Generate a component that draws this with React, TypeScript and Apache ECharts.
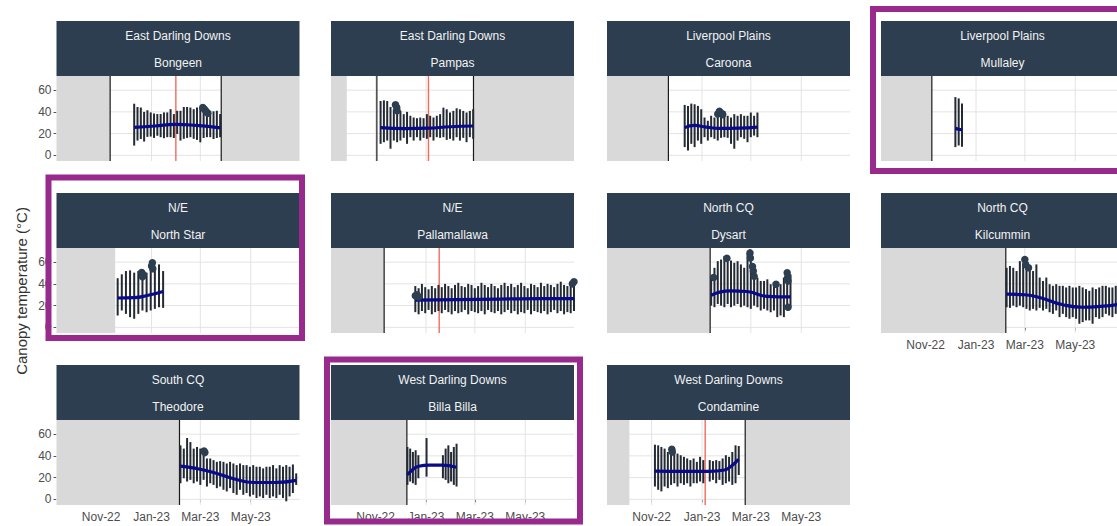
import React, { useEffect, useRef } from 'react';
import * as echarts from 'echarts';

// ---------- time helpers (x values are days from 1 Nov 2022) ----------
const DAY = 86400000;
const ORIGIN = Date.UTC(2022, 10, 1);
const ts = (d: number) => ORIGIN + d * DAY;

// ---------- axes ----------
const X_MIN_DAY = -54; // 8 Sep 2022
const X_MAX_DAY = 240; // 29 Jun 2023
const Y_MIN = -5.2;
const Y_MAX = 73;
const xTickDays = [0, 61, 120, 181];
const xTickLabels = ['Nov-22', 'Jan-23', 'Mar-23', 'May-23'];
const yTicks = [0, 20, 40, 60];

// ---------- facet labels ----------
const regionNames = ['East Darling Downs', 'East Darling Downs', 'Liverpool Plains', 'Liverpool Plains', 'N/E', 'N/E', 'North CQ', 'North CQ', 'South CQ', 'West Darling Downs', 'West Darling Downs'];
const siteNames = ['Bongeen', 'Pampas', 'Caroona', 'Mullaley', 'North Star', 'Pallamallawa', 'Dysart', 'Kilcummin', 'Theodore', 'Billa Billa', 'Condamine'];
const yTitle = 'Canopy temperature (°C)';

// ---------- Bongeen ----------
const bongeenBarStart = 40; const bongeenBarStep = 4;
const bongeenHi = [47.5, 44.5, 44, 40, 41.5, 39.5, 38.5, 38, 38, 39.5, 39.5, 42.5, 38, 41, 41, 44.5, 44.5, 44, 42.5, 44, 44, 41, 39.5, 41, 40.5, 41, 38];
const bongeenLo = [9, 13.6, 15, 12.7, 17, 17.3, 16, 18, 16.7, 15.8, 16.7, 16.7, 16, 19.7, 13.6, 15.2, 16, 16.7, 15.2, 14.2, 12, 16, 16.7, 16.7, 15, 16, 16.7];
const bongeenSmooth = [[40, 25.8], [65, 27], [90, 28.5], [115, 27.5], [144, 25.2]];
const bongeenDots = [[123, 44], [125, 42.5], [127, 40.5], [129, 38.8]];
const bongeenShade = [[X_MIN_DAY, 10.9], [145.3, X_MAX_DAY]];
const bongeenBlack = [10.9, 145.3];
const bongeenRed = [90.4];

// ---------- Pampas ----------
const pampasBarStart = 6; const pampasBarStep = 4;
const pampasHi = [50, 50.6, 50, 44.5, 42.4, 47, 40.9, 37.9, 40, 36.4, 34.8, 34.2, 34.8, 34.2, 37.9, 36.4, 34.8, 36.4, 37.9, 43.9, 42.4, 39.4, 40.9, 43.3, 42.4, 40.9, 39.4, 40.9, 42.4];
const pampasLo = [10.6, 12.1, 13.6, 6.1, 13.6, 12.1, 13.6, 16.1, 10.6, 16.7, 13.6, 16.7, 13.6, 16.1, 15.2, 16.7, 13.6, 16.7, 16.1, 16.7, 14.2, 15.2, 13.6, 16.7, 13.6, 16.1, 12.1, 16.7, 15.2];
const pampasSmooth = [[6, 25.5], [35, 24.6], [64, 25], [90, 26.3], [118, 27]];
const pampasDots = [[24, 46.5], [25.5, 44], [26, 41]];
const pampasShade = [[X_MIN_DAY, -34.9], [118.4, X_MAX_DAY]];
const pampasBlack = [1.5, 118.4];
const pampasRed = [63.9];

// ---------- Caroona ----------
const caroonaBarStart = 40; const caroonaBarStep = 4;
const caroonaHi = [46.4, 45.5, 47.6, 47.0, 45.5, 42.4, 34.8, 31.8, 36.4, 34.8, 37.9, 40.9, 40.9, 36.4, 34.8, 37.9, 36.4, 37.9, 36.4, 36.4, 39.4, 36.4, 39.4];
const caroonaLo = [7.6, 4.5, 10.6, 7.6, 13.6, 10.6, 16.7, 13.6, 16.7, 15.2, 13.6, 16.1, 16.7, 16.1, 10.6, 6.1, 13.6, 16.7, 15.2, 12.1, 16.7, 18.2, 16.7];
const caroonaSmooth = [[40, 25.5], [52, 27.5], [66, 26], [82, 24.8], [105, 25], [128, 26]];
const caroonaDots = [[80, 38], [82, 40.5], [84, 39], [86, 37.5]];
const caroonaShade = [[X_MIN_DAY, 20.3]];
const caroonaBlack = [20.3];
const caroonaRed: number[] = [];

// ---------- Mullaley ----------
const mullaleyBarStart = 36; const mullaleyBarStep = 4;
const mullaleyHi = [53.6, 52.4, 47.6];
const mullaleyLo = [7.6, 9.1, 8.0];
const mullaleySmooth = [[36, 25], [40, 24], [44, 23.5]];
const mullaleyDots: number[][] = [];
const mullaleyShade = [[X_MIN_DAY, 7.5]];
const mullaleyBlack = [7.5];
const mullaleyRed: number[] = [];

// ---------- North Star ----------
const northStarBarStart = 20; const northStarBarStep = 5;
const northStarHi = [45.2, 48.8, 51.8, 52.4, 50.3, 51.8, 53.3, 50.3, 57.9, 54.8, 57.9, 51.8];
const northStarLo = [10.9, 15.5, 12.4, 9.4, 7.9, 12.4, 15.5, 13.9, 15.5, 17, 18.5, 17.9];
const northStarSmooth = [[20, 27], [40, 27.3], [57, 29.5], [75, 33]];
const northStarDots = [[49, 50.5], [50, 46.5], [51, 48.5], [61, 56.5], [62, 59.4], [62.5, 54]];
const northStarShade = [[X_MIN_DAY, 17]];
const northStarBlack: number[] = [];
const northStarRed: number[] = [];

// ---------- Pallamallawa ----------
const pallaBarStart = 48; const pallaBarStep = 4;
const pallaHi = [38, 36, 40, 37, 35, 38, 36, 39, 37, 40, 38, 36, 39, 41, 38, 37, 40, 39, 36, 38, 41, 39, 37, 40, 38, 36, 39, 41, 38, 40, 37, 39, 41, 38, 36, 40, 39, 37, 41, 38, 40, 39, 37, 40, 42, 39, 38, 41, 44];
const pallaLo = [14, 12, 15, 13, 16, 12, 14, 15, 13, 16, 14, 12, 15, 13, 14, 16, 12, 15, 14, 13, 15, 12, 16, 14, 13, 15, 12, 14, 16, 13, 15, 12, 14, 13, 16, 12, 15, 14, 13, 15, 12, 14, 16, 13, 15, 12, 14, 13, 15];
const pallaSmooth = [[48, 25], [100, 25.5], [150, 26], [200, 26.5], [240, 26.5]];
const pallaDots = [[48, 29], [50, 30], [52, 28], [238, 40], [240, 42]];
const pallaShade = [[X_MIN_DAY, 10.3]];
const pallaBlack = [10.3];
const pallaRed = [76.9];

// ---------- Dysart ----------
const dysartBarStart = 72; const dysartBarStep = 4;
const dysartHi = [45.8, 54.8, 60.9, 62.4, 65.5, 60.9, 61.5, 59.4, 60.9, 57.9, 54.8, 68.5, 60.9, 54.8, 45.8, 42.7, 42.7, 44.2, 39.7, 39.7, 38.2, 39.7, 45.8, 51.8, 48.8];
const dysartLo = [20, 18.5, 21.5, 20, 18.5, 21.5, 18.5, 20, 21.5, 18.5, 20, 18.5, 17, 20, 18.5, 15.5, 17, 15.5, 13.9, 15.5, 9.4, 10.9, 9.4, 17, 18.5];
const dysartSmooth = [[72, 29.5], [95, 33.5], [115, 33], [140, 28.5], [168, 28]];
const dysartDots = [[75, 45.8], [91, 63.5], [119, 68.5], [119.5, 63.9], [122, 56], [123, 51.8], [124, 47], [150.5, 39.7], [164, 50.3], [164.5, 45.8], [165, 42.7], [165, 18.5]];
const dysartShade = [[X_MIN_DAY, 70.8]];
const dysartBlack = [70.8];
const dysartRed: number[] = [];

// ---------- Kilcummin ----------
const kilcumminBarStart = 98; const kilcumminBarStep = 4;
const kilcumminHi = [54.8, 56.4, 54.8, 51.8, 60.9, 57.9, 59.4, 54.8, 51.8, 57.9, 45.8, 42.7, 45.8, 39.7, 38.2, 39.7, 38.2, 38.2, 36.7, 38.2, 36.7, 36.7, 38.2, 36.7, 35.2, 33.6, 36.7, 35.2, 36.7, 38.2, 38.2, 36.7, 36.7, 38.2];
const kilcumminLo = [18.5, 17.9, 20, 18.5, 20, 18.5, 17, 15.5, 17, 15.5, 17.9, 15.5, 17, 13.9, 12.4, 15.5, 9.4, 12.4, 9.4, 7.9, 9.4, 7.9, 3.3, 4.8, 6.4, 6.4, 3.3, 9.4, 7.9, 9.4, 12.4, 10.9, 9.4, 12.4];
const kilcumminSmooth = [[98, 30.5], [120, 30], [140, 27], [165, 21], [190, 18.5], [215, 19.5], [232, 21]];
const kilcumminDots = [[120, 62.4], [121, 57.9], [124.5, 54.8]];
const kilcumminShade = [[X_MIN_DAY, 97]];
const kilcumminBlack = [97];
const kilcumminRed: number[] = [];

// ---------- Theodore ----------
const theodoreBarStart = 96; const theodoreBarStep = 4;
const theodoreHi = [49.7, 46.7, 56.4, 52.7, 46.7, 48.2, 46.7, 43.6, 37.6, 37.6, 36.1, 34.5, 35.2, 34.5, 33, 34.5, 33, 31.5, 33, 31.5, 31.5, 30, 31.5, 30, 30, 28.5, 30, 30, 31.5, 28.5, 31.5, 30, 31.5, 30, 32.1, 23.9];
const theodoreLo = [14.8, 19.4, 16.4, 17.9, 14.8, 16.4, 13.3, 17.9, 11.8, 14.8, 13.3, 10.3, 11.8, 8.8, 7.3, 10.3, 5.8, 4.2, 8.8, 4.2, 5.8, 2.7, 4.2, 1.2, 2.7, 1.2, 4.2, 1.2, 2.7, 1.2, 4.2, 1.2, -1.8, 2.7, 5.8, 13.3];
const theodoreSmooth = [[96, 30.5], [115, 28.5], [135, 25], [160, 19], [185, 15.5], [210, 15.5], [236, 17.5]];
const theodoreDots = [[124.5, 44.5], [125.5, 43]];
const theodoreShade = [[X_MIN_DAY, 94.8]];
const theodoreBlack = [94.8];
const theodoreRed: number[] = [];

// ---------- Billa Billa ----------
const billaBarStart = 38.5; const billaBarStep = 3.3;
const billaHi = [48.2, 46.7, 43.6, 45.2, 40.6, null, null, 56.4, null, null, null, null, null, 40.6, 46.7, 49.7, 43.6, 48.2, 51.2];
const billaLo = [13.3, 16.4, 14.8, 13.3, 19.4, null, null, 20.9, null, null, null, null, null, 19.4, 17.9, 14.8, 16.4, 13.3, 11.8];
const billaSmooth = [[38.5, 22.5], [45, 27.5], [52, 30.5], [65, 31.5], [80, 31.5], [97.5, 29.5]];
const billaDots: number[][] = [];
const billaShade = [[X_MIN_DAY, 37.8]];
const billaBlack = [37.8];
const billaRed: number[] = [];

// ---------- Condamine ----------
const condBarStart = 4; const condBarStep = 3.9;
const condHi = [50.3, 49.7, 48.2, 46.7, 43.6, 45.2, 43.6, 42.1, 40.6, 39.1, 37.6, 36.1, 37.6, 34.5, 39.1, 36.1, null, 36.1, 35.2, 36.1, 35.2, 37.6, 40.6, 39.1, 43.6, 49.7, 49.1];
const condLo = [11.8, 8.8, 7.3, 11.8, 10.3, 13.3, 14.8, 11.8, 14.8, 13.3, 14.8, 11.8, 14.8, 14.8, 16.4, 14.8, null, 16.4, 17.9, 14.8, 17.9, 13.3, 14.8, 16.4, 13.3, 14.8, 22.4];
const condSmooth = [[4, 26], [40, 25.8], [70, 25.8], [88, 27], [97, 31], [105, 37]];
const condDots = [[24.4, 46.1], [25, 43.6]];
const condShade = [[X_MIN_DAY, -26.9], [113.2, X_MAX_DAY]];
const condBlack = [113.2];
const condRed = [64.8];

// ---------- table of panels built from the arrays above ----------
const panels = [
  { start: bongeenBarStart, step: bongeenBarStep, hi: bongeenHi, lo: bongeenLo, smooth: bongeenSmooth, dots: bongeenDots, shade: bongeenShade, black: bongeenBlack, red: bongeenRed },
  { start: pampasBarStart, step: pampasBarStep, hi: pampasHi, lo: pampasLo, smooth: pampasSmooth, dots: pampasDots, shade: pampasShade, black: pampasBlack, red: pampasRed },
  { start: caroonaBarStart, step: caroonaBarStep, hi: caroonaHi, lo: caroonaLo, smooth: caroonaSmooth, dots: caroonaDots, shade: caroonaShade, black: caroonaBlack, red: caroonaRed },
  { start: mullaleyBarStart, step: mullaleyBarStep, hi: mullaleyHi, lo: mullaleyLo, smooth: mullaleySmooth, dots: mullaleyDots, shade: mullaleyShade, black: mullaleyBlack, red: mullaleyRed },
  { start: northStarBarStart, step: northStarBarStep, hi: northStarHi, lo: northStarLo, smooth: northStarSmooth, dots: northStarDots, shade: northStarShade, black: northStarBlack, red: northStarRed },
  { start: pallaBarStart, step: pallaBarStep, hi: pallaHi, lo: pallaLo, smooth: pallaSmooth, dots: pallaDots, shade: pallaShade, black: pallaBlack, red: pallaRed },
  { start: dysartBarStart, step: dysartBarStep, hi: dysartHi, lo: dysartLo, smooth: dysartSmooth, dots: dysartDots, shade: dysartShade, black: dysartBlack, red: dysartRed },
  { start: kilcumminBarStart, step: kilcumminBarStep, hi: kilcumminHi, lo: kilcumminLo, smooth: kilcumminSmooth, dots: kilcumminDots, shade: kilcumminShade, black: kilcumminBlack, red: kilcumminRed },
  { start: theodoreBarStart, step: theodoreBarStep, hi: theodoreHi, lo: theodoreLo, smooth: theodoreSmooth, dots: theodoreDots, shade: theodoreShade, black: theodoreBlack, red: theodoreRed },
  { start: billaBarStart, step: billaBarStep, hi: billaHi, lo: billaLo, smooth: billaSmooth, dots: billaDots, shade: billaShade, black: billaBlack, red: billaRed },
  { start: condBarStart, step: condBarStep, hi: condHi, lo: condLo, smooth: condSmooth, dots: condDots, shade: condShade, black: condBlack, red: condRed },
];

// ---------- layout ----------
const colLeft = [56.5, 331, 607, 881];
const rowTop = [76, 248, 420];
const PANEL_W = 243;
const PLOT_H = 85;
const STRIP_H = 55;
const panelCol = [0, 1, 2, 3, 0, 1, 2, 3, 0, 1, 2];
const panelRow = [0, 0, 0, 0, 1, 1, 1, 1, 2, 2, 2];
const xLabelPanels = [7, 8, 9, 10];
const purpleBoxes = [
  [873, 9, 260, 162],
  [48.5, 177.5, 253.5, 160.5],
  [327, 359.5, 253, 162],
];

const FONT = "'Liberation Sans', Arial, Helvetica, sans-serif";
const STRIP = '#2c3e50';
const GRID_COLOR = '#e3e3e3';
const SHADE = '#d9d9d9';
const BAR_COLOR = '#232a33';
const DOT_COLOR = '#2c3e50';
const LINE_COLOR = '#0a0a8c';
const RED = '#f26b5e';
const PURPLE = '#982a8e';

function fmtX(v: number) {
  const k = xTickDays.findIndex((d) => Math.abs(ts(d) - v) < DAY / 2);
  return k < 0 ? '' : xTickLabels[k];
}

function buildOption() {
  const grid: any[] = [];
  const xAxis: any[] = [];
  const yAxis: any[] = [];
  const series: any[] = [];
  const graphic: any[] = [];

  panels.forEach((p, i) => {
    const left = colLeft[panelCol[i]];
    const top = rowTop[panelRow[i]];
    const showX = xLabelPanels.includes(i);
    const showY = panelCol[i] === 0;
    grid.push({ left, top, width: PANEL_W, height: PLOT_H, show: false, containLabel: false, outerBoundsMode: 'none' });
    xAxis.push({
      type: 'value', gridIndex: i, min: ts(X_MIN_DAY), max: ts(X_MAX_DAY),
      splitLine: { show: false }, axisLine: { show: false },
      axisTick: { show: showX, customValues: xTickDays.map(ts), length: 3, lineStyle: { color: '#555' } },
      axisLabel: { show: showX, customValues: xTickDays.map(ts), formatter: fmtX, color: '#4d4d4d', fontSize: 12, fontFamily: FONT, margin: 6 },
    });
    yAxis.push({
      type: 'value', gridIndex: i, min: Y_MIN, max: Y_MAX,
      splitLine: { show: false }, axisLine: { show: false },
      axisTick: { show: showY, customValues: yTicks, length: 3, lineStyle: { color: '#555' } },
      axisLabel: { show: showY, customValues: yTicks, color: '#4d4d4d', fontSize: 12, fontFamily: FONT, margin: 5 },
    });

    const ax = { xAxisIndex: i, yAxisIndex: i, silent: true };
    // grid lines
    series.push({
      type: 'custom', ...ax, z: 1,
      data: xTickDays.map((d) => [ts(d), 0]),
      renderItem: (params: any, api: any) => {
        const cs = params.coordSys;
        const x = api.coord([api.value(0), 0])[0];
        return { type: 'line', shape: { x1: x, y1: cs.y, x2: x, y2: cs.y + cs.height }, style: { stroke: GRID_COLOR, lineWidth: 1 } };
      },
    });
    series.push({
      type: 'custom', ...ax, z: 1,
      data: yTicks.map((v) => [ts(0), v]),
      renderItem: (params: any, api: any) => {
        const cs = params.coordSys;
        const y = api.coord([ts(0), api.value(1)])[1];
        return { type: 'line', shape: { x1: cs.x, y1: y, x2: cs.x + cs.width, y2: y }, style: { stroke: GRID_COLOR, lineWidth: 1 } };
      },
    });
    // shaded out-of-season areas
    series.push({
      type: 'custom', ...ax, z: 2,
      data: p.shade.map((s) => [ts(s[0]), ts(s[1])]),
      renderItem: (params: any, api: any) => {
        const a = api.coord([api.value(0), Y_MAX]);
        const b = api.coord([api.value(1), Y_MIN]);
        return { type: 'rect', shape: { x: a[0], y: a[1], width: b[0] - a[0], height: b[1] - a[1] }, style: { fill: SHADE } };
      },
    });
    // black and red vertical lines
    const vline = (days: number[], color: string, width: number) => ({
      type: 'custom', ...ax, z: 3,
      data: days.map((d) => [ts(d), 0]),
      renderItem: (params: any, api: any) => {
        const cs = params.coordSys;
        const x = api.coord([api.value(0), 0])[0];
        return { type: 'line', shape: { x1: x, y1: cs.y, x2: x, y2: cs.y + cs.height }, style: { stroke: color, lineWidth: width } };
      },
    });
    series.push(vline(p.black, '#1a1a1a', 1.2));
    series.push(vline(p.red, RED, 1.4));
    // daily range bars
    const bars: number[][] = [];
    p.hi.forEach((h: any, k: number) => {
      const l = (p.lo as any[])[k];
      if (h != null && l != null) bars.push([ts(p.start + k * p.step), l, h]);
    });
    series.push({
      type: 'custom', ...ax, z: 4,
      data: bars,
      renderItem: (params: any, api: any) => {
        const t = api.value(0);
        const a = api.coord([t, api.value(1)]);
        const b = api.coord([t, api.value(2)]);
        return { type: 'line', shape: { x1: a[0], y1: a[1], x2: b[0], y2: b[1] }, style: { stroke: BAR_COLOR, lineWidth: 2 } };
      },
    });
    // smoothed trend
    series.push({
      type: 'line', ...ax, z: 5, smooth: 0.5, showSymbol: false, symbol: 'none',
      data: p.smooth.map((q) => [ts(q[0]), q[1]]),
      lineStyle: { color: LINE_COLOR, width: 3.2 },
    });
    // outliers
    series.push({
      type: 'scatter', ...ax, z: 6, symbolSize: 7.5,
      data: p.dots.map((q) => [ts(q[0]), q[1]]),
      itemStyle: { color: DOT_COLOR, opacity: 1 },
    });

    // strip header
    graphic.push({ type: 'rect', z: 10, shape: { x: left, y: top - STRIP_H, width: PANEL_W, height: STRIP_H }, style: { fill: STRIP } });
    graphic.push({ type: 'text', z: 11, x: left + PANEL_W / 2, y: top - STRIP_H + 14.5, style: { text: regionNames[i], fill: '#f2f2f2', fontSize: 12, fontFamily: FONT, textAlign: 'center', textVerticalAlign: 'middle', verticalAlign: 'middle' } });
    graphic.push({ type: 'text', z: 11, x: left + PANEL_W / 2, y: top - STRIP_H + 41.5, style: { text: siteNames[i], fill: '#f2f2f2', fontSize: 12, fontFamily: FONT, textAlign: 'center', textVerticalAlign: 'middle', verticalAlign: 'middle' } });
  });

  graphic.push({ type: 'text', z: 11, x: 21, y: 291, rotation: Math.PI / 2, style: { text: yTitle, fill: '#333333', fontSize: 15, fontFamily: FONT, textAlign: 'center', textVerticalAlign: 'middle', verticalAlign: 'middle' } });
  purpleBoxes.forEach((b) => {
    graphic.push({ type: 'rect', z: 100, shape: { x: b[0], y: b[1], width: b[2], height: b[3] }, style: { fill: 'none', stroke: PURPLE, lineWidth: 6 } });
  });

  return { animation: false, backgroundColor: '#ffffff', grid, xAxis, yAxis, series, graphic };
}

export default function App() {
  const ref = useRef<HTMLDivElement>(null);
  useEffect(() => {
    if (!ref.current) return;
    const chart = echarts.init(ref.current, undefined, { renderer: 'svg' });
    chart.setOption(buildOption() as any);
    return () => chart.dispose();
  }, []);
  return <div ref={ref} style={{ position: 'absolute', left: 0, top: 0, width: 1117, height: 526 }} />;
}
